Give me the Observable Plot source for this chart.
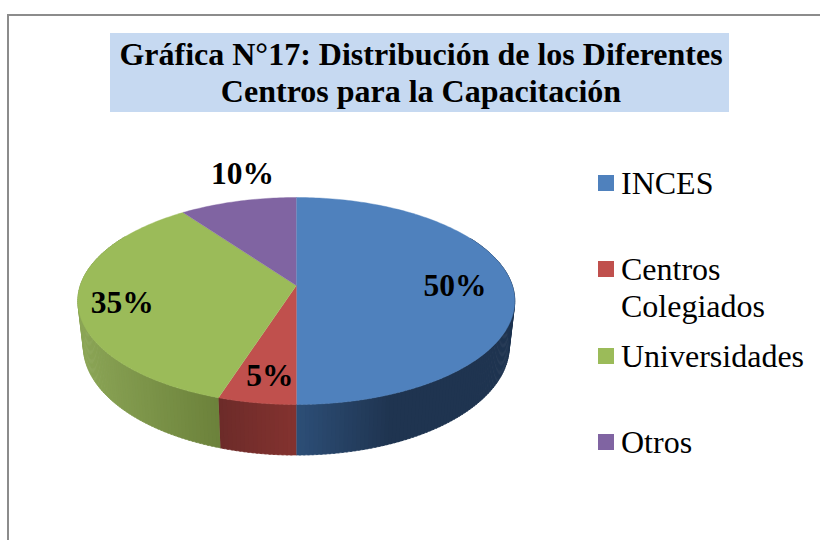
<!DOCTYPE html>
<html lang="es">
<head>
<meta charset="utf-8">
<script src="https://cdn.jsdelivr.net/npm/d3@7"></script>
<script src="https://cdn.jsdelivr.net/npm/@observablehq/plot@0.6"></script>
<style>
html,body{margin:0;padding:0;background:#fff;overflow:hidden}
#page{position:relative;width:820px;height:540px;overflow:hidden;font-family:"Liberation Serif",serif;color:#000}
#frame{position:absolute;left:7px;top:14px;width:900px;height:700px;border:2px solid #8c8c8c;box-sizing:border-box}
#chart{position:absolute;left:0;top:0}
#title{position:absolute;left:110px;top:33px;width:619px;height:79px;background:#c6d9f1;text-align:center;font-weight:bold;font-size:32px;line-height:37px;padding-top:3px;padding-left:3px;box-sizing:border-box;white-space:nowrap}
.sw{position:absolute;left:598px;width:16px;height:16px}
.lg{position:absolute;left:621px;font-size:32px;line-height:37px;white-space:nowrap}
</style>
</head>
<body>
<div id="page">
  <div id="frame"></div>
  <div id="chart"></div>
  <div id="title">Gráfica N°17: Distribución de los Diferentes<br>Centros para la Capacitación</div>
  <div id="legend"></div>
</div>
<script>
const categories = ["INCES", "Centros Colegiados", "Universidades", "Otros"];
const shares = [50, 5, 35, 10];
const faceColors = ["#4f81bd", "#c0504d", "#9bbb59", "#8064a2"];
const wallLight = ["#2d4f78", "#83322f", "#8ba556", "#5f4a78"];
const wallDark = ["#1f3450", "#6c2b29", "#6c823b", "#4a3a5e"];

// Tilted-disc projection of the unit circle
const tilt = 0.1498;
const project = (u, v) => [u / (1 + tilt * v), v / (1 + tilt * v)];
const lower = ([x, y]) => [0.975 * x, -0.437 + 1.053 * y];
const polar = (deg, r = 1) => {
  const a = deg * Math.PI / 180;
  return project(r * Math.sin(a), r * Math.cos(a));
};

let acc = 0;
const slices = categories.map((name, i) => {
  const start = acc / 100 * 360;
  acc += shares[i];
  return {name, i, start, end: acc / 100 * 360, mid: (start + acc / 100 * 360) / 2};
});

// Top faces
const facePts = [];
for (const s of slices) {
  facePts.push({id: s.name, color: faceColors[s.i], x: 0, y: 0});
  for (let d = s.start; d <= s.end + 1e-6; d += 1) {
    const [x, y] = polar(d);
    facePts.push({id: s.name, color: faceColors[s.i], x, y});
  }
}

// Side wall, as narrow strips whose tone follows the rim
const wallPts = [];
for (const s of slices) {
  for (let d = s.start; d < s.end; d += 1) {
    if (d > 300 || d < 60) continue;
    const d2 = Math.min(d + 1.4, s.end);
    const [x0] = polar(s.start), [x1] = polar(s.end);
    const [xm] = polar(d);
    let t;
    if (s.i === 0) t = Math.min(1, (xm - x1) / 0.45);
    else if (s.i === 1) t = 1 - (xm - x1) / (x0 - x1);
    else t = (xm + 1) / (x0 + 1);
    const c = d3.interpolateRgb(wallLight[s.i], wallDark[s.i])(Math.max(0, Math.min(1, t)));
    const a = polar(d), b = polar(d2), la = lower(a), lb = lower(b);
    for (const p of [a, b, lb, la]) wallPts.push({id: s.name + d, color: c, x: p[0], y: p[1]});
  }
}

// Percentage labels
const labelRadius = [0.735, 0.75, 0.8, 1.4];
const labelShift = [[0, 0], [2, 6], [0, 4], [24, 1]];
const labels = slices.map(s => {
  const [x, y] = polar(s.mid, labelRadius[s.i]);
  return {x, y, text: shares[s.i] + "%", i: s.i};
});

const textOpts = {
  x: "x", y: "y", text: "text", fill: "#000", fontSize: 31.5, fontWeight: "bold",
  fontFamily: "Liberation Serif", textAnchor: "middle"
};
const linOpts = {x: "x", y: "y", z: "id", curve: "linear"};

const chart = Plot.plot({
  width: 820, height: 540,
  marginTop: 0, marginRight: 0, marginBottom: 0, marginLeft: 0,
  style: {background: "transparent", overflow: "visible"},
  x: {axis: null, domain: [-295.8 / 216, (820 - 295.8) / 216], range: [0, 820]},
  y: {axis: null, domain: [(285 - 540) / 101.2, 285 / 101.2], range: [540, 0]},
  color: {type: "identity"},
  marks: [
    Plot.line(wallPts, {...linOpts, fill: "color", stroke: "color", strokeWidth: 0.6}),
    Plot.line(facePts, {...linOpts, fill: "color", stroke: "color", strokeWidth: 0.4}),
    ...labels.map(d => Plot.text([d], {...textOpts, dx: labelShift[d.i][0], dy: labelShift[d.i][1]}))
  ]
});
document.getElementById("chart").appendChild(chart);

// Legend
const legendRows = [
  {i: 0, lines: ["INCES"]},
  {i: 1, lines: ["Centros", "Colegiados"]},
  {i: 2, lines: ["Universidades"]},
  {i: 3, lines: ["Otros"]}
];
const swatchTops = [175, 261, 348, 434];
const legend = document.getElementById("legend");
legendRows.forEach((row, n) => {
  const sw = document.createElement("div");
  sw.className = "sw";
  sw.style.top = swatchTops[n] + "px";
  sw.style.background = faceColors[row.i];
  legend.appendChild(sw);
  const t = document.createElement("div");
  t.className = "lg";
  t.style.top = (swatchTops[n] - 10) + "px";
  t.innerHTML = row.lines.join("<br>");
  legend.appendChild(t);
});
</script>
</body>
</html>
